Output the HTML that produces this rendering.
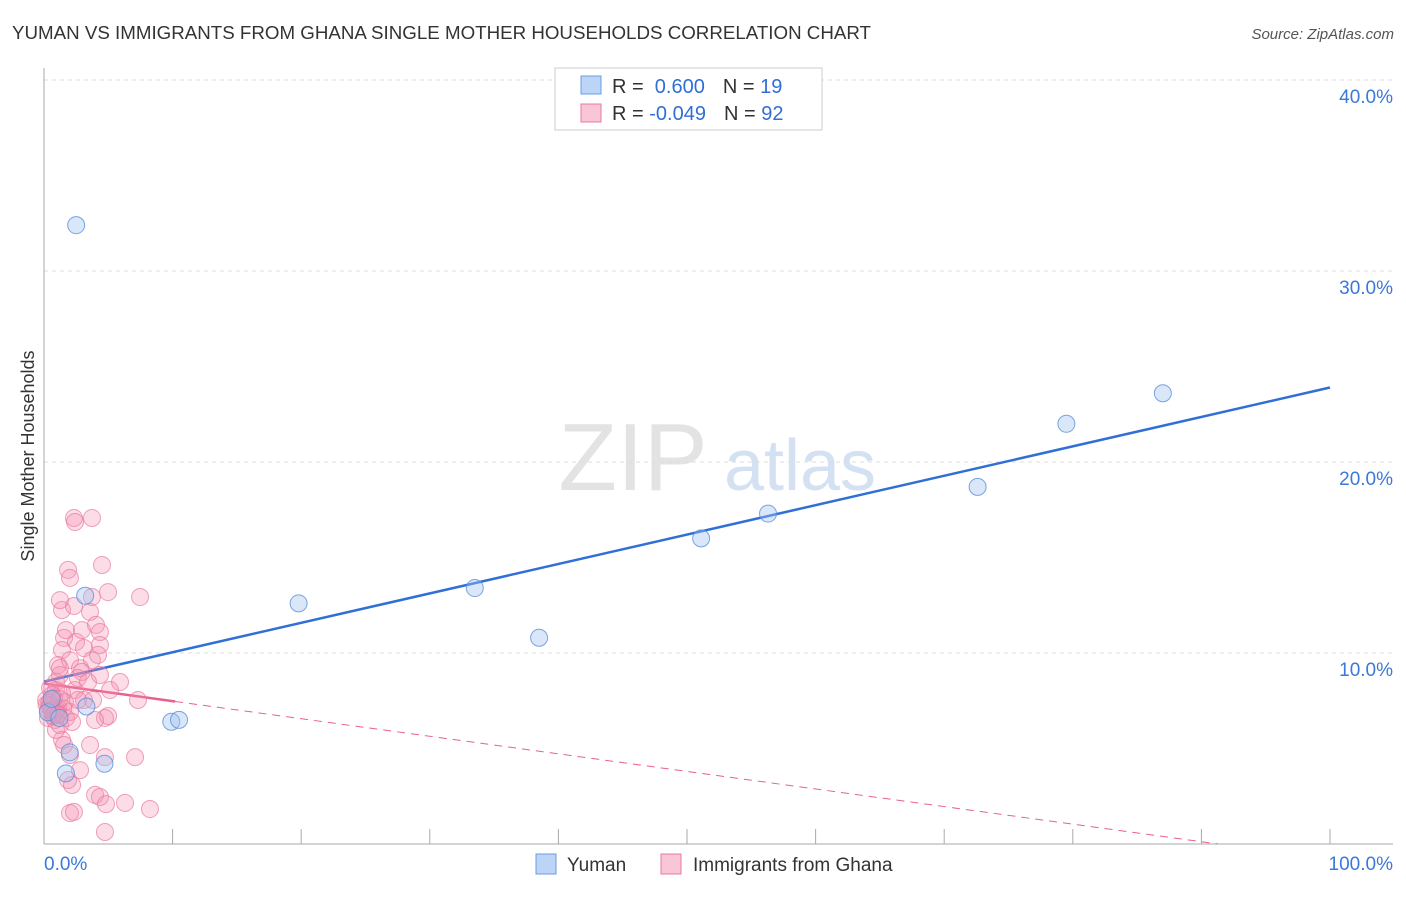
<!DOCTYPE html>
<html><head><meta charset="utf-8">
<style>
body{margin:0;background:#fff;font-family:"Liberation Sans",sans-serif;}
svg text{font-family:"Liberation Sans",sans-serif;}
</style></head>
<body>
<svg id="chart" width="1406" height="892" xmlns="http://www.w3.org/2000/svg">
<text x="12" y="39" font-size="18" fill="#333" textLength="859" lengthAdjust="spacingAndGlyphs">YUMAN VS IMMIGRANTS FROM GHANA SINGLE MOTHER HOUSEHOLDS CORRELATION CHART</text>
<text x="1394" y="39" font-size="15" fill="#555" text-anchor="end" font-style="italic">Source: ZipAtlas.com</text>
<text x="633" y="490" font-size="96" fill="#e3e3e3" font-family="Liberation Serif" text-anchor="middle">ZIP</text>
<text x="800" y="490" font-size="72" fill="#d3e1f3" text-anchor="middle">atlas</text>
<text transform="translate(34,456) rotate(-90)" font-size="18" fill="#333" text-anchor="middle">Single Mother Households</text>
<g id="grid"></g><g id="axes"></g><g id="lines"></g><g id="pts"></g>
<g>
<rect x="555" y="68" width="267" height="62" fill="#fff" stroke="#ccc"/>
<rect x="581" y="76" width="20" height="18" fill="#bcd4f6" stroke="#6a9be0"/>
<rect x="581" y="104" width="20" height="18" fill="#f9c6d6" stroke="#e87a9e"/>
<text x="612" y="93" font-size="20" fill="#333">R = <tspan fill="#2f6fd6">&#160;0.600</tspan><tspan dx="18">N = </tspan><tspan fill="#2f6fd6">19</tspan></text>
<text x="612" y="120" font-size="20" fill="#333">R = <tspan fill="#2f6fd6">-0.049</tspan><tspan dx="18">N = </tspan><tspan fill="#2f6fd6">92</tspan></text>
</g>
<g>
<rect x="536" y="854" width="20" height="20" fill="#bcd4f6" stroke="#6a9be0"/>
<text x="567" y="871" font-size="19" fill="#333">Yuman</text>
<rect x="661" y="854" width="20" height="20" fill="#f9c6d6" stroke="#e87a9e"/>
<text x="693" y="871" font-size="19" fill="#333">Immigrants from Ghana</text>
</g>
</svg>
<script>
const yTicks=[10,20,30,40];
const yTickLabels=["10.0%","20.0%","30.0%","40.0%"];
const xTickLabels=["0.0%","100.0%"];
const blueX=[2.5,3.2,4.7,1.7,2.0,3.3,19.8,9.9,10.5,33.5,38.5,51.1,56.3,72.6,79.5,87.0,0.3,0.6,1.2];
const blueY=[32.4,13.0,4.2,3.7,4.8,7.2,12.6,6.4,6.5,13.4,10.8,16.0,17.3,18.7,22.0,23.6,6.9,7.6,6.6];
const pinkX=[2.33,2.41,3.73,4.51,1.87,2.02,7.47,4.98,3.73,1.40,2.33,3.58,4.04,4.35,1.56,2.49,1.40,3.11,2.02,1.09,3.73,2.80,1.24,4.35,0.93,2.41,5.91,7.31,0.62,0.47,0.62,0.31,0.86,1.24,3.11,4.98,4.74,3.97,1.40,3.58,2.02,4.74,7.08,1.87,2.18,3.97,4.35,6.30,8.24,2.02,4.82,4.74,1.24,1.71,2.95,2.64,3.42,0.93,1.63,2.02,1.71,0.78,1.09,0.31,1.40,4.35,4.20,1.24,2.95,0.47,0.16,0.93,2.18,2.80,3.81,5.13,1.56,1.09,0.62,2.64,2.33,0.5,0.8,1.0,0.4,0.7,1.5,0.2,0.9,1.2,0.6,1.1];
const pinkY=[17.07,16.86,17.07,14.61,14.35,13.93,12.93,13.19,12.93,12.25,12.46,12.15,11.47,11.10,10.79,10.58,10.16,10.26,9.63,9.37,9.63,9.21,8.85,8.85,8.06,8.06,8.48,7.54,7.54,7.28,6.91,6.60,6.49,6.23,7.54,6.70,6.60,6.49,5.45,5.18,4.66,4.55,4.55,3.35,3.09,2.57,2.46,2.15,1.83,1.62,2.09,0.63,12.77,11.20,11.20,8.69,8.48,8.48,7.43,6.91,6.60,7.64,7.12,7.02,7.91,10.42,9.90,9.21,9.01,8.17,7.54,5.97,6.39,3.87,7.54,8.06,5.18,6.75,7.80,7.54,1.68,7.2,6.8,7.0,7.4,6.7,7.1,7.3,6.9,7.6,7.0,6.8];
const blueFit=[8.5,23.9];
const pinkFit=[8.4,-0.092];
const X=v=>44+v*12.86, Y=v=>844-v*19.1;
const NS="http://www.w3.org/2000/svg";
function mk(t,a,p){const e=document.createElementNS(NS,t);for(const k in a)e.setAttribute(k,a[k]);document.getElementById(p).appendChild(e);return e;}
yTicks.forEach((t,i)=>{
 const g=mk('line',{x1:44,x2:1393,y1:Y(t),y2:Y(t),stroke:'#ddd','stroke-dasharray':'4,4'},'grid');
 
 
 const l=mk('text',{x:1393,y:Y(t)+23,'font-size':19,fill:'#3b78d8','text-anchor':'end'},'axes');
 l.textContent=yTickLabels[i];
 
 
});
const ya=mk('line',{x1:44,x2:44,y1:68,y2:844,stroke:'#aaa'},'axes');


const xa=mk('line',{x1:44,x2:1393,y1:844,y2:844,stroke:'#aaa'},'axes');


for(let i=1;i<=10;i++){const t=mk('line',{x1:X(i*10),x2:X(i*10),y1:829,y2:844,stroke:'#aaa'},'axes');
 
 }
[[0,'start',44],[100,'end',1393]].forEach((d,i)=>{const t=mk('text',{x:d[2],y:870,'font-size':19,fill:'#3b78d8','text-anchor':d[1]},'axes');t.textContent=xTickLabels[i];
 
 });
const bl=mk('line',{x1:X(0),y1:Y(blueFit[0]),x2:X(100),y2:Y(blueFit[1]),stroke:'#2f6fd6','stroke-width':2.5},'lines');


const pz=-pinkFit[0]/pinkFit[1];
const ps=mk('line',{x1:X(0),y1:Y(pinkFit[0]),x2:X(10.2),y2:Y(pinkFit[0]+pinkFit[1]*10.2),stroke:'#e8608e','stroke-width':2.5},'lines');


const pd=mk('line',{x1:X(10.2),y1:Y(pinkFit[0]+pinkFit[1]*10.2),x2:X(pz),y2:Y(0),stroke:'#e8608e','stroke-width':1,'stroke-dasharray':'8,6'},'lines');


pinkX.forEach((v,i)=>{const c=mk('circle',{cx:X(v),cy:Y(pinkY[i]),r:8.5,fill:'rgba(244,143,177,0.3)',stroke:'#e87a9e','stroke-opacity':0.7},'pts');
 
 });
blueX.forEach((v,i)=>{const c=mk('circle',{cx:X(v),cy:Y(blueY[i]),r:8.5,fill:'rgba(160,196,240,0.4)',stroke:'#5b8fdc','stroke-opacity':0.8},'pts');
 
 });
</script>
</body></html>
